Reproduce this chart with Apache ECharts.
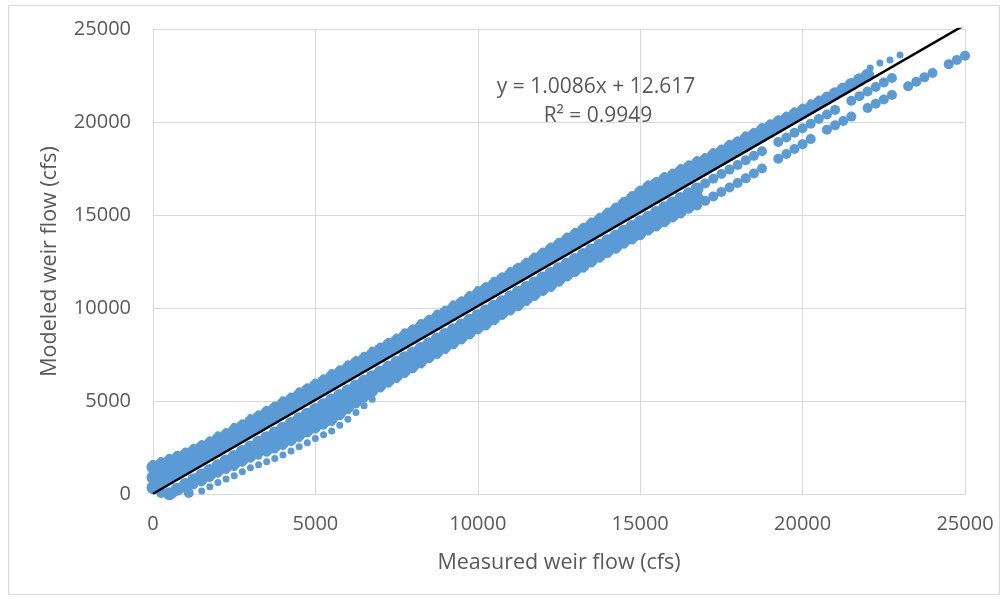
<!DOCTYPE html>
<html>
<head>
<meta charset="utf-8">
<script src="https://cdn.jsdelivr.net/npm/echarts@6/dist/echarts.min.js"></script>
<style>
  html, body { margin: 0; padding: 0; background: #fff; }
  #weirChart { width: 1004px; height: 599px; }
</style>
</head>
<body>
<div id="weirChart"></div>
<script>
// rows of points read along the scatter band (measured, modeled)
// upper edge of the band
const upperEdge = [[0,1650],[250,1800],[500,1970],[750,2140],[1000,2310],[1250,2510],[1500,2710],[1750,2910],[2000,3190],[2250,3360],[2500,3640],[2750,3830],[3000,4110],[3250,4310],[3500,4560],[3750,4790],[4000,5070],[4250,5270],[4500,5550],[4750,5770],[5000,6020],[5250,6250],[5500,6530],[5750,6730],[6000,7000],[6250,7230],[6500,7460],[6750,7740],[7000,7960],[7250,8210],[7500,8440],[7750,8720],[8000,8940],[8250,9220],[8500,9450],[8750,9730],[9000,9950],[9250,10230],[9500,10450],[9750,10730],[10000,10990],[10250,11210],[10500,11490],[10750,11740],[11000,12020],[11250,12250],[11500,12530],[11750,12800],[12000,13060],[12250,13340],[12500,13590],[12750,13870],[13000,14120],[13250,14400],[13500,14680],[13750,14930],[14000,15210],[14250,15490],[14500,15790],[14750,16100],[15000,16400],[15250,16680],[15500,16860],[15750,17130],[16000,17310],[16250,17560],[16500,17760],[16750,17980],[17000,18150],[17250,18410],[17500,18600],[17750,18860],[18000,19050],[18250,19310],[18500,19500],[18750,19760],[19000,19960],[19250,20180],[19500,20380],[19750,20600],[20000,20800],[20250,21030],[20500,21230],[20750,21450],[21000,21650],[21250,21900],[21500,22100],[21750,22330],[22000,22550]];
const upperSparse = [[22080,22900],[22380,23170],[22690,23330],[23000,23600]];
// upper fill rows
const upperRow2 = [[0,1440],[250,1580],[500,1750],[750,1930],[1000,2100],[1250,2290],[1500,2490],[1750,2690],[2000,2940],[2250,3140],[2500,3390],[2750,3620],[3000,3870],[3250,4100],[3500,4350],[3750,4580],[4000,4830],[4250,5050],[4500,5300],[4750,5560],[5000,5810],[5250,6030],[5500,6290],[5750,6510],[6000,6760],[6250,7020],[6500,7240],[6750,7490],[7000,7750],[7250,8000],[7500,8220],[7750,8470],[8000,8730],[8250,8980],[8500,9230],[8750,9480],[9000,9740],[9250,9990],[9500,10240],[9750,10490],[10000,10740],[10250,11000],[10500,11250],[10750,11530],[11000,11780],[11250,12060],[11500,12310],[11750,12590],[12000,12840],[12250,13120],[12500,13370],[12750,13650],[13000,13900],[13250,14180],[13500,14460],[13750,14710],[14000,14990],[14250,15270],[14500,15580],[14750,15880],[15000,16190],[15250,16470],[15500,16670],[15750,16920],[16000,17090],[16250,17340],[16500,17540],[16750,17770],[17000,17940],[17250,18190],[17500,18390],[17750,18640],[18000,18840],[18250,19090],[18500,19290],[18750,19540],[19000,19740],[19250,19970],[19500,20160],[19750,20390],[20000,20590]];
const upperRow3 = [[0,890],[250,1090],[500,1300],[750,1510],[1000,1720],[1250,1950],[1500,2170],[1750,2400],[2000,2650],[14250,14990],[14500,15270],[14750,15550],[15000,15830],[15250,16090],[15500,16320],[15750,16570],[16000,16780],[16250,17030],[16500,17260]];
const upperRow1 = [[0,340],[250,590],[500,840],[750,1090],[1000,1340],[1250,1600],[1500,1850],[1750,2100],[2000,2350],[2250,2610],[2500,2860],[2750,3110],[3000,3360],[3250,3610],[3500,3870],[3750,4120],[4000,4370],[4250,4620],[4500,4870],[4750,5130],[5000,5380],[5250,5630],[5500,5880],[5750,6140],[6000,6390],[6250,6640],[6500,6890],[6750,7140],[7000,7400],[7250,7650],[7500,7900],[7750,8150],[8000,8400],[8250,8660],[8500,8910],[8750,9160],[9000,9410],[9250,9670],[9500,9920],[9750,10170],[10000,10420],[10250,10670],[10500,10930],[10750,11180],[11000,11430],[11250,11680],[11500,11930],[11750,12190],[12000,12440],[12250,12690],[12500,12940],[12750,13200],[13000,13450],[13250,13700],[13500,13950],[13750,14200],[14000,14460],[14250,14710],[14500,14960],[14750,15210],[15000,15460],[15250,15720],[15500,15970],[15750,16220],[16000,16470],[16250,16730],[16500,16980],[16750,17230],[17000,17480],[17250,17730],[17500,17990],[17750,18240],[18000,18490],[18250,18740],[18500,19000],[18750,19250],[19000,19500],[19250,19750],[19500,20000],[19750,20260],[20000,20510],[20250,20760],[20500,21010],[20750,21260],[21000,21520],[21250,21770],[21500,22020],[21750,22270],[22000,22520]];
// lower fill rows
const lowerRow1 = [[500,20],[750,260],[1000,510],[1250,760],[1500,1020],[1750,1270],[2000,1520],[2250,1770],[2500,2020],[2750,2280],[3000,2530],[3250,2780],[3500,3030],[3750,3280],[4000,3540],[4250,3790],[4500,4040],[4750,4290],[5000,4540],[5250,4800],[5500,5050],[5750,5300],[6000,5550],[6250,5810],[6500,6060],[6750,6310],[7000,6560],[7250,6810],[7500,7070],[7750,7320],[8000,7570],[8250,7820],[8500,8080],[8750,8330],[9000,8580],[9250,8830],[9500,9080],[9750,9340],[10000,9590],[10250,9840],[10500,10090],[10750,10340],[11000,10600],[11250,10850],[11500,11100],[11750,11350],[12000,11610],[12250,11860],[12500,12110],[12750,12360],[13000,12610],[13250,12870],[13500,13120],[13750,13370],[14000,13620],[14250,13870],[14500,14130],[14750,14380],[15000,14630],[15250,14880],[15500,15140],[15750,15390],[16000,15640],[16250,15890],[16500,16140],[16750,16400]];
const lowerRow2 = [[1000,460],[1250,660],[1500,830],[1750,1050],[2000,1280],[2250,1480],[2500,1650],[2750,1860],[3000,2080],[3250,2300],[3500,2550],[3750,2800],[4000,3050],[4250,3300],[4500,3560],[4750,3810],[5000,4060],[5250,4310],[5500,4570],[5750,4820],[6000,5070],[6250,5320],[6500,5570],[6750,5830],[7000,6080],[7250,6330],[7500,6580],[7750,6830],[8000,7090],[8250,7340],[8500,7590],[8750,7840],[9000,8100],[9250,8350],[9500,8600],[9750,8850],[10000,9100],[10250,9360],[10500,9610],[10750,9860],[11000,10110],[11250,10360],[11500,10620],[11750,10870],[12000,11120],[12250,11370],[12500,11630],[12750,11880],[13000,12130],[13250,12380],[13500,12630],[13750,12890],[14000,13140],[14250,13390],[14500,13640],[14750,13890],[15000,14150],[15250,14400],[15500,14650],[15750,14900],[16000,15160],[16250,15410],[16500,15660],[16750,15910]];
const lowerRow3 = [[3500,2400],[3750,2590],[4000,2770],[4250,2980],[4500,3210],[4750,3430],[5000,3650],[5250,3860],[5500,4070],[5750,4360],[6000,4690],[6250,5000],[6500,5310],[6750,5590],[7000,5860],[7250,6120],[7500,6370],[7750,6650],[8000,6900],[8250,7150],[8500,7430],[8750,7660],[9000,7930],[9250,8190],[9500,8440],[9750,8720],[10000,8970],[10250,9200],[10500,9470],[10750,9750],[11000,10010],[11250,10230],[11500,10510],[11750,10790],[12000,11040],[12250,11270],[12500,11550],[12750,11820],[13000,12080],[13250,12300],[13500,12580],[13750,12830],[14000,13090],[14250,13310],[14500,13590],[14750,13810],[15000,14040],[15250,14290],[15500,14520],[15750,14740],[16000,14990],[16250,15220],[16500,15470]];
// lower edge of the band
const lowerEdge = [[1000,240],[1250,440],[1500,610],[1750,840],[2000,1060],[2250,1260],[2500,1430],[2750,1650],[3000,1870],[3250,2030],[3500,2190],[3750,2370],[4000,2560],[4250,2770],[4500,2990],[4750,3220],[5000,3440],[5250,3640],[5500,3850],[5750,4150],[6000,4480],[6250,4780],[6500,5090],[6750,5370],[7000,5650],[7250,5900],[7500,6150],[7750,6430],[8000,6680],[8250,6940],[8500,7220],[8750,7440],[9000,7720],[9250,7970],[9500,8220],[9750,8500],[10000,8760],[10250,8980],[10500,9260],[10750,9540],[11000,9790],[11250,10020],[11500,10300],[11750,10570],[12000,10830],[12250,11050],[12500,11330],[12750,11610],[13000,11860],[13250,12090],[13500,12370],[13750,12620],[14000,12870],[14250,13100],[14500,13370],[14750,13600],[15000,13830],[15250,14080],[15500,14300],[15750,14530],[16000,14780],[16250,15000],[16500,15260]];
// loose dotted row under the band
const lowerDots = [[1500,160],[1750,390],[2000,620],[2250,800],[2500,980],[2750,1190],[3000,1410],[3250,1570],[3500,1730],[3750,1910],[4000,2100],[4250,2310],[4500,2540],[4750,2760],[5000,2980],[5250,3180],[5500,3390],[5750,3690],[6000,4020],[6250,4380],[6500,4740],[6750,5100]];
// low points near the origin
const originCluster = [[250,60],[600,30],[1100,60]];
// two branches below the line above 17000 cfs
const bandB = [[17000,16700],[17250,16950],[17500,17200],[17750,17440],[18000,17690],[18250,17940],[18500,18180],[18750,18430],[19250,18920],[19500,19170],[19750,19420],[20000,19660],[20250,19910],[20500,20160],[20750,20400],[21000,20650],[21500,21140],[21750,21390],[22000,21640],[22250,21880],[22500,22130],[22750,22370]];
const bandC = [[16750,15510],[17000,15760],[17250,16000],[17500,16240],[17750,16480],[18000,16720],[18250,16970],[18500,17230],[18750,17500],[19250,18020],[19500,18280],[19750,18550],[20000,18810],[20250,19080],[20750,19580],[21000,19820],[21250,20050],[21500,20290],[22000,20750],[22250,20980],[22500,21210],[22750,21450],[23250,21920],[23500,22160],[23750,22400],[24000,22630],[24500,23110],[24750,23340],[25000,23560]];
// linear trendline y = 1.0086x + 12.617
const trendLine = [[0,12.617],[25000,25227.6]];
const equationText = 'y = 1.0086x + 12.617';
const r2Text = 'R\u00b2 = 0.9949';

const blue = '#5b9bd5';
const textColor = '#595959';
const font = 'Open Sans';

function dots(data, size) {
  return {
    type: 'scatter',
    data: data,
    symbolSize: size,
    itemStyle: { color: blue, opacity: 1 },
    silent: true
  };
}

const chart = echarts.init(document.getElementById('weirChart'));
chart.setOption({
  animation: false,
  grid: { left: 153, right: 39, top: 29, bottom: 105 },
  xAxis: {
    type: 'value',
    min: 0,
    max: 25000,
    interval: 5000,
    name: 'Measured weir flow (cfs)',
    nameLocation: 'middle',
    nameGap: 58,
    nameTextStyle: { color: textColor, fontSize: 21.5, fontFamily: font },
    axisLine: { show: true, lineStyle: { color: '#d9d9d9' } },
    axisTick: { show: false },
    axisLabel: { color: textColor, fontSize: 20, fontFamily: font, margin: 20, formatter: v => String(v) },
    splitLine: { lineStyle: { color: '#d9d9d9', width: 1 } }
  },
  yAxis: {
    type: 'value',
    min: 0,
    max: 25000,
    interval: 5000,
    name: 'Modeled weir flow (cfs)',
    nameLocation: 'middle',
    nameGap: 92,
    nameTextStyle: { color: textColor, fontSize: 21.5, fontFamily: font },
    axisLine: { show: false },
    axisTick: { show: false },
    axisLabel: { color: textColor, fontSize: 20, fontFamily: font, margin: 22, formatter: v => String(v) },
    splitLine: { lineStyle: { color: '#d9d9d9', width: 1 } }
  },
  series: [
    dots(originCluster, 10),
    dots(upperRow2, 13),
    dots(upperRow3, 13),
    dots(upperRow1, 13),
    dots(lowerRow1, 13),
    dots(lowerRow2, 13),
    dots(lowerRow3, 13),
    dots(upperEdge, 7),
    dots(upperSparse, 7),
    dots(lowerEdge, 7),
    dots(lowerDots, 7),
    dots(bandB, 10),
    dots(bandC, 10),
    {
      type: 'line',
      data: trendLine,
      showSymbol: false,
      silent: true,
      z: 5,
      lineStyle: { color: '#000', width: 2.5 }
    }
  ],
  graphic: [
    {
      type: 'rect',
      silent: true,
      shape: { x: 8.5, y: 5.5, width: 991, height: 589 },
      style: { fill: 'none', stroke: '#d9d9d9', lineWidth: 1 }
    },
    {
      type: 'text',
      x: 596, y: 87,
      style: { text: equationText, fill: textColor, font: '21px "Open Sans"', align: 'center', verticalAlign: 'middle' }
    },
    {
      type: 'text',
      x: 598, y: 116,
      style: { text: r2Text, fill: textColor, font: '21px "Open Sans"', align: 'center', verticalAlign: 'middle' }
    }
  ]
});
</script>
</body>
</html>
